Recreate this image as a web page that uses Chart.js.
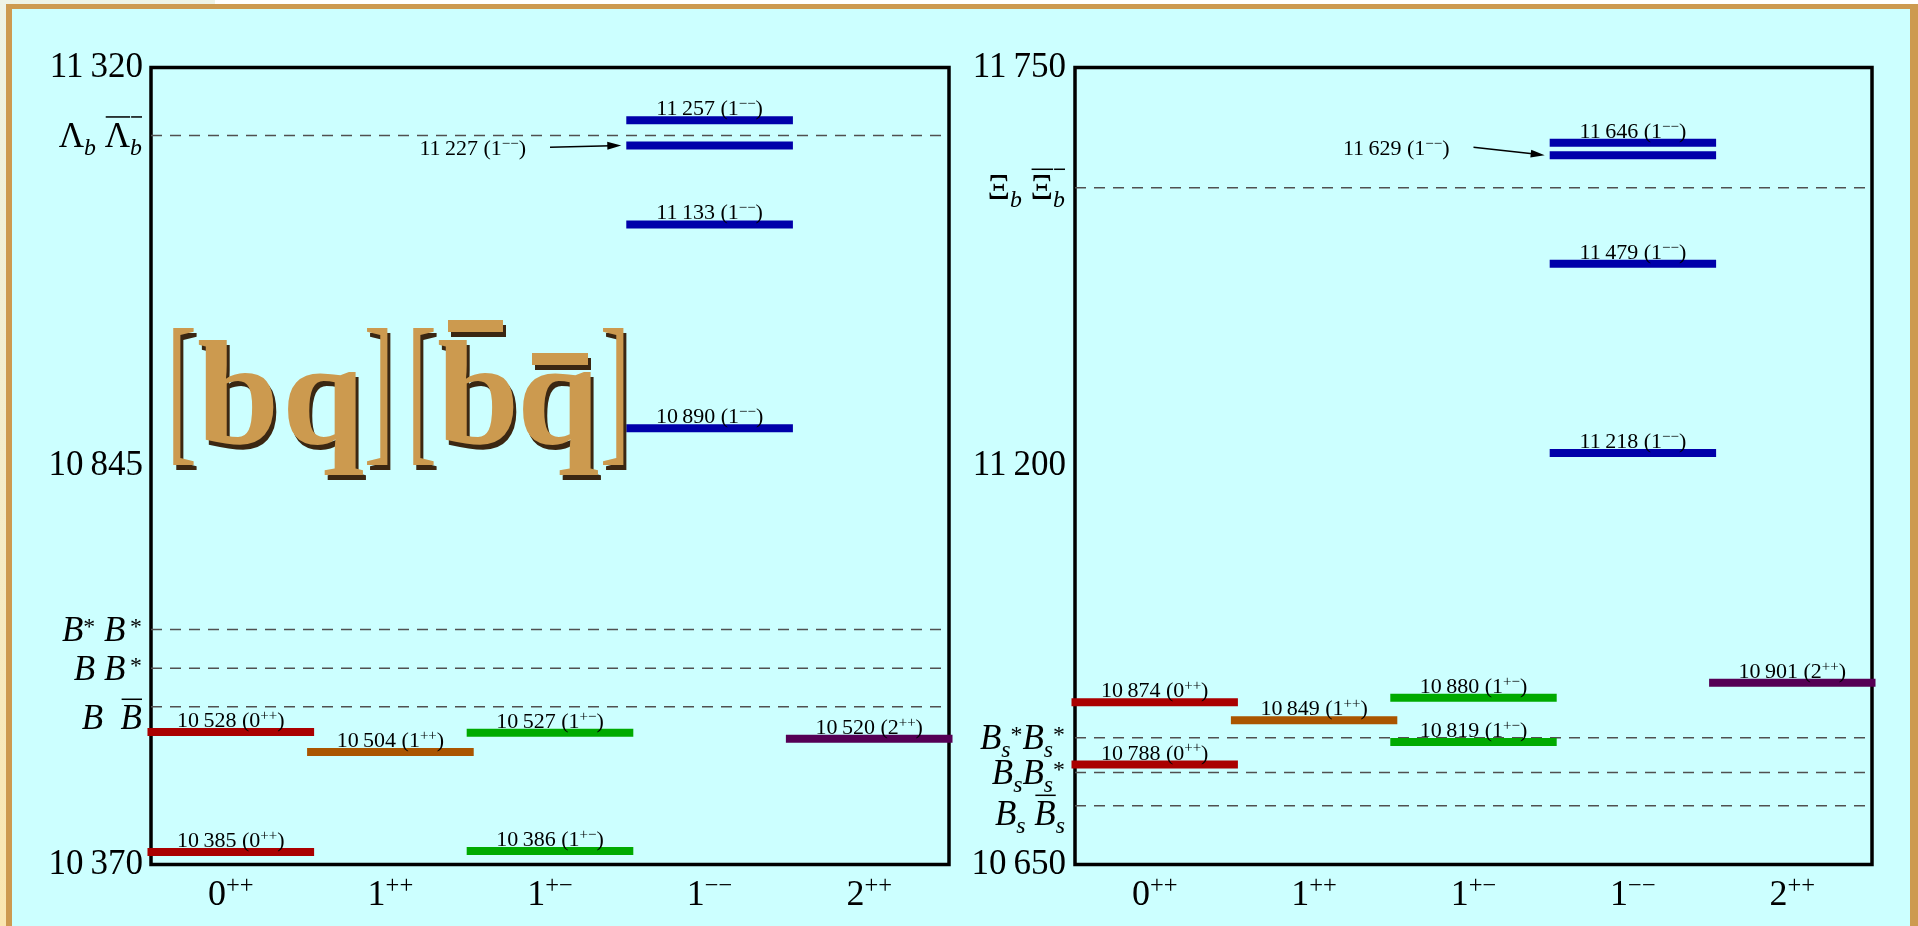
<!DOCTYPE html>
<html>
<head>
<meta charset="utf-8">
<script src="https://cdn.jsdelivr.net/npm/chart.js@4.4.1/dist/chart.umd.min.js"></script>
<style>
  html, body { margin: 0; padding: 0; width: 1918px; height: 926px; overflow: hidden;
    background: linear-gradient(#eef3e6, #fae6b0); }
  #topstrip { position: absolute; left: 215px; top: 0; width: 1703px; height: 4px; background: #fff; }
  #frame { position: absolute; left: 6px; top: 4px; width: 1898px; height: 917px; background: #ccffff;
    border-left: 6px solid #cd9a50; border-top: 5px solid #cd9a50; border-right: 8px solid #cd9a50; }
  canvas { position: absolute; top: 9px; }
  #leftChart { left: 12px; }
  #rightChart { left: 962px; }
</style>
</head>
<body>
<div id="topstrip"></div>
<div id="frame"></div>
<canvas id="leftChart" width="960" height="917"></canvas>
<canvas id="rightChart" width="948" height="917"></canvas>
<script>
  // ---------- Data ----------
  const categories = ["0", "1", "1", "1", "2"];
  const parities   = ["++", "++", "+\u2212", "\u2212\u2212", "++"];

  // left panel: [bq][b̄q̄] states
  const leftLevels     = [10385, 10528, 10504, 10386, 10527, 10890, 11133, 11227, 11257, 10520];
  const leftLevelCats  = [0, 0, 1, 2, 2, 3, 3, 3, 3, 4];
  const leftYTicks     = [10370, 10845, 11320];
  const leftThresholds = [11239, 10650, 10604, 10558];
  const leftThresholdNames = [
    [{ t: "\u039b" }, { t: "b", it: 1, sub: 1 }, { t: " " }, { t: "\u039b", ov: 1 }, { t: "b", it: 1, sub: 1, ov: 1 }],
    [{ t: "B", it: 1 }, { t: "*", sup: 1 }, { t: " B", it: 1 }, { t: "\u2009*", sup: 1 }],
    [{ t: "B B", it: 1 }, { t: "\u2009*", sup: 1 }],
    [{ t: "B  ", it: 1 }, { t: "B", it: 1, ov: 1 }]
  ];

  // right panel: strange partners
  const rightLevels     = [10788, 10874, 10849, 10819, 10880, 11218, 11479, 11629, 11646, 10901];
  const rightLevelCats  = [0, 0, 1, 2, 2, 3, 3, 3, 3, 4];
  const rightYTicks     = [10650, 11200, 11750];
  const rightThresholds = [11584, 10825, 10777, 10731];
  const rightThresholdNames = [
    [{ t: "\u039e" }, { t: "b", it: 1, sub: 1 }, { t: " " }, { t: "\u039e", ov: 1 }, { t: "b", it: 1, sub: 1, ov: 1 }],
    [{ t: "B", it: 1 }, { t: "s", it: 1, sub: 1 }, { t: "*", sup: 1 }, { t: "B", it: 1 }, { t: "s", it: 1, sub: 1 }, { t: "*", sup: 1 }],
    [{ t: "B", it: 1 }, { t: "s", it: 1, sub: 1 }, { t: "B", it: 1 }, { t: "s", it: 1, sub: 1 }, { t: "*", sup: 1 }],
    [{ t: "B", it: 1 }, { t: "s", it: 1, sub: 1 }, { t: " " }, { t: "B", it: 1, ov: 1 }, { t: "s", it: 1, sub: 1 }]
  ];

  // ---------- Styles ----------
  const FONT = '"Liberation Serif", "DejaVu Serif", serif';
  const levelColors = ["#aa0000", "#aa5500", "#00aa00", "#0000aa", "#550055"];
  const BAR_HALF = 0.522;
  const TICK_SIZE = 35, LEVEL_SIZE = 22, CAT_SIZE = 36;

  const fmt = v => String(v).replace(/(\d+)(\d{3})$/, "$1\u2009$2");

  // draws a list of text parts with sub/superscripts and overlines
  function drawRich(ctx, parts, x, y, size, align) {
    const ms = [];
    let w = 0;
    for (const p of parts) {
      const s = (p.sub || p.sup) ? size * 0.68 : size;
      const font = (p.it ? "italic " : "") + s + "px " + FONT;
      ctx.font = font;
      const pw = ctx.measureText(p.t).width;
      ms.push({ p, font, pw });
      w += pw;
    }
    let cx = align === "right" ? x - w : align === "center" ? x - w / 2 : x;
    ctx.textAlign = "left";
    ctx.textBaseline = "alphabetic";
    for (const m of ms) {
      ctx.font = m.font;
      let dy = 0;
      if (m.p.sub) dy = size * 0.22;
      if (m.p.sup) dy = m.p.t.includes("*") ? -size * 0.2 : -size * 0.32;
      ctx.fillText(m.p.t, cx, y + dy);
      if (m.p.ov) {
        ctx.fillRect(cx + 1, y - size * 0.88, m.pw - 1, 1.5);
      }
      cx += m.pw;
    }
    return w;
  }

  function makePanel(canvasId, cfg) {
    const datasets = [];
    cfg.levels.forEach((v, k) => {
      const c = cfg.cats[k];
      datasets.push({
        data: [{ x: c - BAR_HALF, y: v }, { x: c + BAR_HALF, y: v }],
        borderColor: levelColors[c],
        borderWidth: 8,
        borderCapStyle: "butt",
        pointRadius: 0,
        showLine: true,
        clip: false,
        order: 1
      });
    });
    cfg.thresholds.forEach(v => {
      datasets.push({
        data: [{ x: -0.5, y: v }, { x: 4.5, y: v }],
        borderColor: "#505050",
        borderWidth: 1.5,
        borderDash: [11, 8],
        pointRadius: 0,
        showLine: true,
        order: 2
      });
    });

    const panelPlugin = {
      id: "panel_" + canvasId,
      beforeDatasetsDraw(chart) {
        const { ctx, chartArea: a } = chart;
        ctx.save();
        ctx.strokeStyle = "#000";
        ctx.lineWidth = 3.5;
        ctx.strokeRect(a.left, a.top, a.right - a.left, a.bottom - a.top);
        ctx.restore();
      },
      afterDatasetsDraw(chart) {
        const { ctx, chartArea: a } = chart;
        const xs = chart.scales.x, ys = chart.scales.y;
        ctx.save();
        ctx.fillStyle = "#000";
        ctx.strokeStyle = "#000";

        // level labels
        cfg.levels.forEach((v, k) => {
          const c = cfg.cats[k];
          const call = cfg.callouts.find(o => o.value === v);
          const parts = [{ t: fmt(v) + " (" + categories[c] }, { t: parities[c], sup: 1 }, { t: ")" }];
          if (!call) {
            drawRich(ctx, parts, xs.getPixelForValue(c), ys.getPixelForValue(v) - 5, LEVEL_SIZE, "center");
            return;
          }
          const sx = xs.getPixelForValue(call.fromCat);
          const sy = ys.getPixelForValue(call.fromValue);
          const tx = xs.getPixelForValue(c - BAR_HALF) - 5;
          const ty = ys.getPixelForValue(v);
          drawRich(ctx, parts, sx - 24, sy + 8, LEVEL_SIZE, "right");
          const ang = Math.atan2(ty - sy, tx - sx);
          ctx.lineWidth = 1.5;
          ctx.beginPath();
          ctx.moveTo(sx, sy);
          ctx.lineTo(tx - 10 * Math.cos(ang), ty - 10 * Math.sin(ang));
          ctx.stroke();
          ctx.beginPath();
          ctx.moveTo(tx, ty);
          ctx.lineTo(tx - 14 * Math.cos(ang) + 4 * Math.sin(ang), ty - 14 * Math.sin(ang) - 4 * Math.cos(ang));
          ctx.lineTo(tx - 14 * Math.cos(ang) - 4 * Math.sin(ang), ty - 14 * Math.sin(ang) + 4 * Math.cos(ang));
          ctx.closePath();
          ctx.fill();
        });

        // threshold names on the axis
        cfg.thresholds.forEach((v, k) => {
          const y = ys.getPixelForValue(v) + TICK_SIZE * 0.33 + (cfg.nameShift[k] || 0);
          drawRich(ctx, cfg.names[k], a.left - cfg.namePad, y, TICK_SIZE, "right");
        });

        // category labels
        categories.forEach((c, i) => {
          drawRich(ctx, [{ t: c }, { t: parities[i], sup: 1 }], xs.getPixelForValue(i), a.bottom + 40.5, CAT_SIZE, "center");
        });

        if (cfg.title) cfg.title(ctx, a);
        ctx.restore();
      }
    };

    return new Chart(document.getElementById(canvasId), {
      type: "scatter",
      data: { datasets },
      options: {
        responsive: false,
        animation: false,
        devicePixelRatio: 1,
        layout: { autoPadding: false, padding: { top: 58.5, right: cfg.padRight, bottom: 0, left: 0 } },
        plugins: { legend: { display: false }, tooltip: { enabled: false } },
        scales: {
          x: {
            type: "linear", min: -0.5, max: 4.5,
            ticks: { display: false },
            grid: { display: false },
            border: { display: false },
            afterFit: s => { s.height = 61.5; }
          },
          y: {
            type: "linear",
            min: cfg.yTicks[0], max: cfg.yTicks[2],
            ticks: {
              stepSize: cfg.yTicks[1] - cfg.yTicks[0],
              callback: v => fmt(v),
              color: "#000",
              padding: cfg.tickPad,
              font: { family: FONT, size: TICK_SIZE }
            },
            grid: { display: false, drawTicks: false },
            border: { display: false },
            afterFit: s => { s.width = cfg.axisWidth; }
          }
        }
      },
      plugins: [panelPlugin]
    });
  }

  // decorative [bq][b̄q̄] heading
  function drawQuarkTitle(ctx, a) {
    const base = a.top + 375.5;
    const glyphs = [
      { t: "[", x: 22, b: 0 }, { t: "b", x: 47, b: 1 }, { t: "q", x: 137, b: 1 }, { t: "]", x: 216, b: 0 },
      { t: "[", x: 262, b: 0 }, { t: "b", x: 287, b: 1 }, { t: "q", x: 372, b: 1 }, { t: "]", x: 452, b: 0 }
    ];
    ctx.save();
    ctx.fillStyle = "#cc9a4f";
    ctx.shadowColor = "#3b2712";
    ctx.shadowOffsetX = 3;
    ctx.shadowOffsetY = 5;
    ctx.shadowBlur = 0;
    ctx.textAlign = "left";
    ctx.textBaseline = "alphabetic";
    for (const g of glyphs) {
      if (g.b) {
        ctx.font = "bold 148px " + FONT;
        const m = ctx.measureText(g.t);
        ctx.fillText(g.t, a.left + g.x + m.actualBoundingBoxLeft, base);
      } else {
        // brackets: tall and thin
        ctx.font = "166px " + FONT;
        const m = ctx.measureText(g.t);
        ctx.save();
        ctx.translate(a.left + g.x, base);
        ctx.scale(0.55, 1);
        ctx.fillText(g.t, m.actualBoundingBoxLeft, 0);
        ctx.restore();
      }
    }
    ctx.fillRect(a.left + 297, base - 123, 55, 12);
    ctx.fillRect(a.left + 381, base - 90, 56, 12);
    ctx.restore();
  }

  makePanel("leftChart", {
    levels: leftLevels, cats: leftLevelCats, yTicks: leftYTicks,
    thresholds: leftThresholds, names: leftThresholdNames, nameShift: [0, 0, 0, 11], namePad: 9,
    callouts: [{ value: 11227, fromCat: 2, fromValue: 11225 }],
    axisWidth: 139, padRight: 23, tickPad: 8, title: drawQuarkTitle
  });

  makePanel("rightChart", {
    levels: rightLevels, cats: rightLevelCats, yTicks: rightYTicks,
    thresholds: rightThresholds, names: rightThresholdNames, nameShift: [0, 0, 0, 8], namePad: 10,
    callouts: [{ value: 11629, fromCat: 2, fromValue: 11640 }],
    axisWidth: 113, padRight: 38, tickPad: 9, title: null
  });
</script>
</body>
</html>
